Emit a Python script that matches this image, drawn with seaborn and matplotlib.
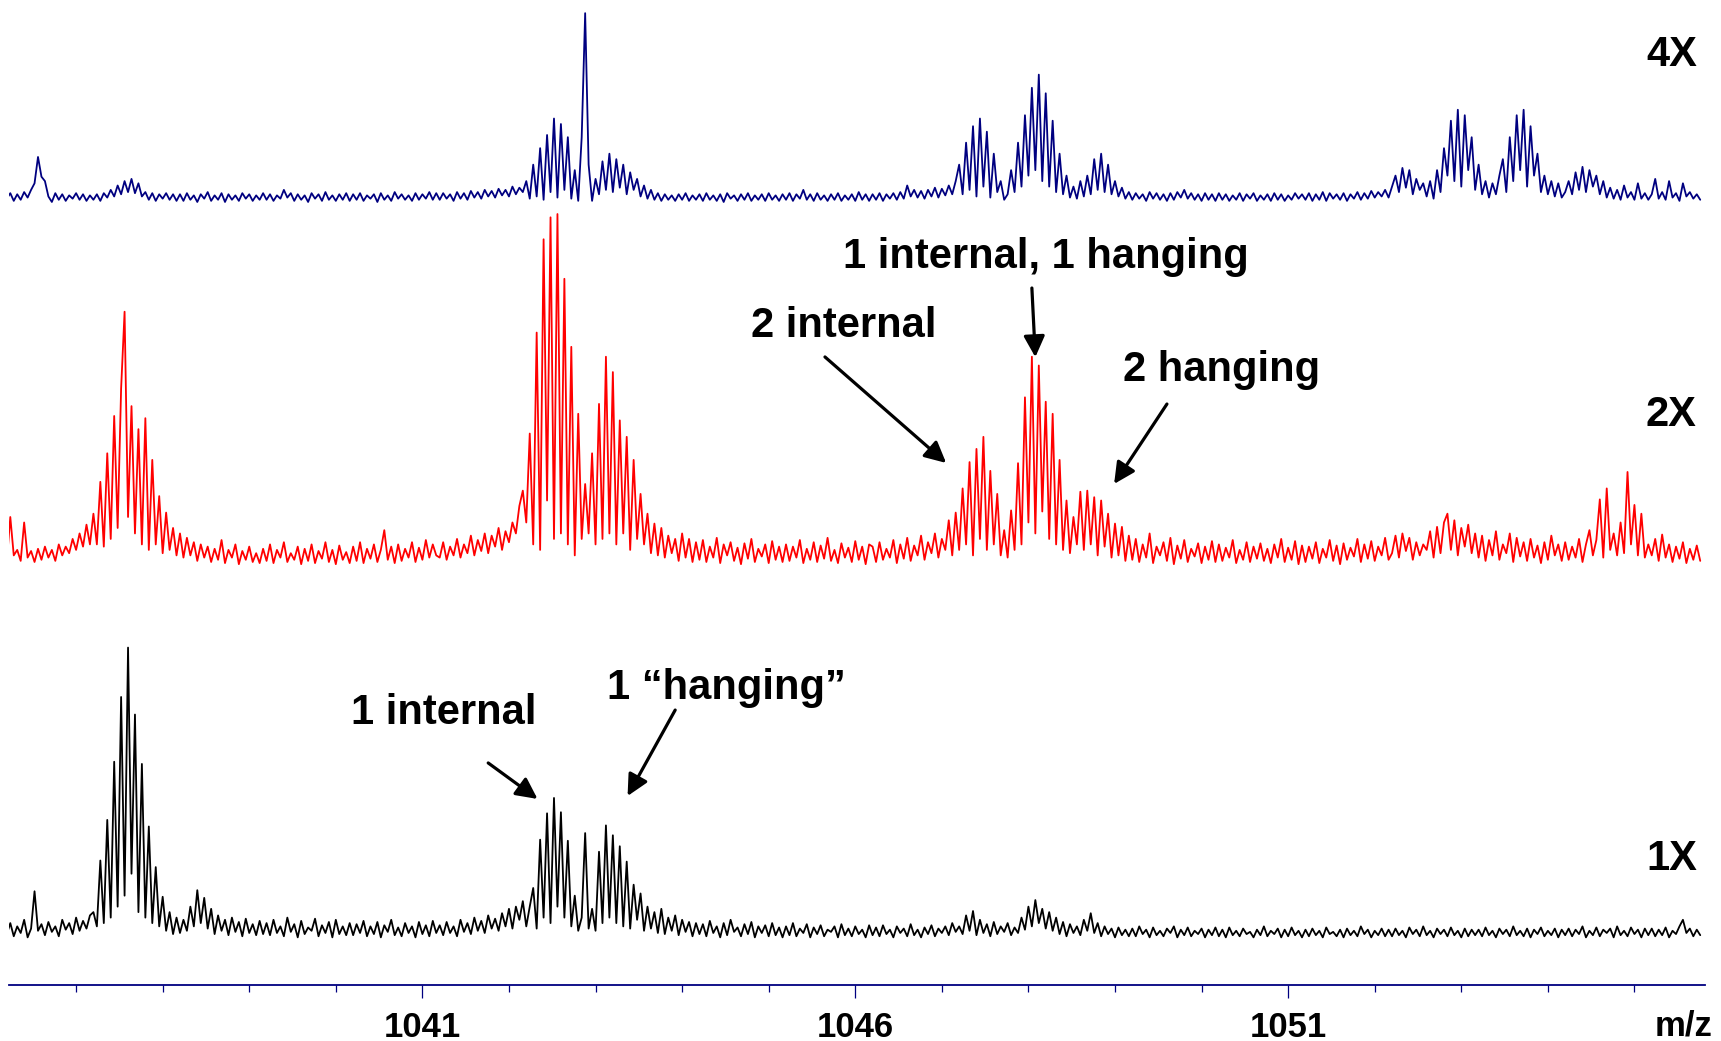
import numpy as np
import pandas as pd
import matplotlib
matplotlib.use("Agg")
import matplotlib.pyplot as plt
import seaborn as sns

# ---------------- data (intensity above each trace's noise floor, one row per m/z unit) -------------
MZ_START = 1036.2
MZ_STEP = 0.04

blue_4x = [
    4,9,2,8,3,10,5,12,18,42,24,20,6,1,9,3,8,2,7,4,9,3,8,2,7,
    3,8,2,9,5,12,6,16,8,20,10,22,9,18,6,10,3,9,2,8,4,9,3,8,2,
    8,2,9,3,7,1,8,4,10,2,7,3,9,1,8,3,7,2,9,4,8,2,7,3,9,
    3,8,2,7,4,12,5,9,2,8,3,7,1,9,4,8,2,10,3,7,2,8,3,9,2,
    8,3,9,2,7,4,8,1,9,3,7,2,10,4,8,3,7,2,9,3,8,4,10,3,9,
    3,9,4,8,2,10,4,9,3,11,5,10,4,12,6,11,5,13,7,12,6,15,8,14,10,
    20,4,35,6,50,3,62,10,77,5,72,12,60,4,30,2,60,173,35,2,22,8,38,12,45,
    10,40,14,35,8,28,12,22,6,16,4,12,3,9,2,8,3,7,2,8,3,9,2,7,3,
    8,2,9,3,7,2,8,1,9,4,7,2,8,3,9,2,7,3,8,2,9,3,7,2,8,
    3,9,2,8,4,12,3,8,2,9,3,7,2,8,3,9,2,7,3,8,2,10,3,8,2,
    8,3,9,2,8,4,9,3,10,4,16,6,12,5,11,4,12,6,14,5,13,7,16,8,20,
    35,8,55,12,70,6,77,15,65,5,45,10,20,3,8,30,10,55,15,80,25,105,30,117,20,
    100,15,75,10,45,8,25,5,15,4,20,6,25,8,40,12,45,10,35,8,20,6,14,4,10,
    3,9,4,8,2,10,4,9,3,8,2,9,3,10,5,12,4,9,3,8,2,9,3,8,2,
    9,3,8,2,7,3,9,2,8,4,9,2,7,3,8,2,9,3,8,2,7,3,9,4,8,
    3,9,2,8,3,10,2,9,4,8,3,9,2,8,4,10,3,9,4,11,5,10,6,12,5,
    15,25,10,32,14,30,8,22,12,18,6,20,4,30,10,50,25,75,20,85,15,80,30,60,12,
    35,8,20,5,18,8,25,40,10,60,20,80,30,85,15,70,25,45,10,25,8,20,6,18,5,
    10,20,8,28,12,33,10,30,15,25,8,20,5,14,4,12,3,16,5,10,3,18,4,9,3,
    8,22,4,10,3,20,5,9,2,18,6,10,4,8,3,
]

red_2x = [
    5,45,10,15,5,40,8,14,4,16,6,18,8,15,5,20,10,18,12,25,15,30,18,38,20,
    48,20,77,18,103,25,137,35,162,232,45,146,30,125,20,135,15,97,20,64,12,49,15,35,10,
    30,8,26,10,22,5,20,8,18,4,16,6,24,3,15,8,20,2,14,6,18,4,12,3,16,
    5,20,3,15,8,22,4,12,6,18,2,16,5,20,3,14,7,22,4,15,2,19,6,13,3,
    18,5,22,3,16,7,20,4,15,33,6,18,3,20,5,16,8,22,4,17,6,24,8,20,10,
    8,22,6,18,10,25,8,20,12,28,10,24,14,30,12,28,18,35,15,32,22,40,30,55,69,
    40,121,20,213,15,298,60,318,25,321,30,262,20,200,10,139,25,75,30,103,20,148,25,191,30,
    177,20,133,30,118,15,97,25,66,20,48,12,39,10,35,8,28,12,25,5,30,8,25,4,22,
    6,24,4,18,8,26,3,20,10,22,5,17,2,21,7,25,4,16,9,20,3,23,6,18,4,
    20,5,18,8,24,3,16,6,22,4,19,7,26,5,15,3,21,8,17,4,23,6,18,2,20,
    18,4,22,6,16,8,24,3,20,7,26,5,19,10,28,6,22,12,30,8,25,15,42,10,49,
    15,71,20,95,10,107,25,118,15,87,20,66,10,33,8,51,15,94,20,154,40,191,30,183,50,
    150,25,139,20,97,15,60,12,45,20,68,15,69,20,63,10,60,18,48,8,39,10,36,5,28,
    6,25,4,20,8,30,3,18,10,22,5,26,2,19,7,24,4,16,9,21,3,18,6,23,4,
    20,5,17,8,24,3,15,6,22,4,18,7,21,5,16,3,20,8,25,4,17,6,23,2,19,
    4,18,7,22,3,16,8,24,5,19,2,21,6,17,9,25,4,20,7,23,5,18,10,26,6,
    12,28,8,30,14,26,6,22,10,20,15,32,8,36,12,40,48,15,42,10,35,18,38,12,30,
    8,28,5,24,10,32,6,20,12,30,4,26,9,22,5,25,8,19,3,22,6,28,10,20,5,
    22,6,18,8,25,4,20,33,10,24,61,8,71,15,30,10,40,12,86,20,56,10,48,8,20,
    10,25,5,29,8,20,4,18,7,22,3,16,6,19,5,
]

black_1x = [
    5,15,3,12,6,18,2,10,44,8,14,4,16,7,12,3,18,9,15,5,20,8,17,10,22,
    25,12,72,15,109,20,162,30,221,40,266,60,205,25,160,20,103,15,66,12,39,8,25,5,20,
    6,18,8,30,12,45,15,38,10,28,5,22,8,18,4,20,7,16,3,19,6,14,4,17,5,
    15,4,18,6,12,3,20,7,14,2,17,5,11,8,19,3,13,6,16,2,18,5,12,4,15,
    4,14,6,17,3,12,5,16,2,13,7,18,4,11,3,15,6,12,2,16,5,13,3,17,6,
    13,4,16,6,12,3,18,7,15,5,20,8,17,6,22,10,19,8,24,12,28,10,30,18,35,
    12,30,47,10,91,20,115,15,129,30,116,20,90,12,40,8,20,97,10,28,8,80,15,104,20,
    95,15,85,12,71,10,50,18,42,8,30,10,25,6,28,5,20,8,22,4,18,7,16,3,15,
    5,14,3,17,6,12,2,15,4,18,7,11,3,14,5,16,2,12,6,13,3,15,4,11,2,
    12,4,15,3,10,6,14,2,11,5,13,3,9,7,12,2,14,4,10,3,12,5,9,2,13,
    4,11,3,13,5,9,2,12,6,10,3,14,4,9,2,11,5,13,3,10,6,12,4,15,7,
    12,5,22,8,26,4,18,6,14,3,16,5,12,7,15,4,11,6,20,9,30,12,36,15,28,
    10,25,8,20,5,16,3,14,6,12,4,18,8,24,6,15,3,12,5,10,2,11,4,9,3,
    10,3,12,5,9,2,11,4,8,3,10,6,12,2,9,4,11,3,8,5,10,2,9,4,11,
    3,9,2,11,4,8,3,10,5,7,2,9,4,12,3,8,5,10,2,9,3,11,4,8,2,
    9,3,10,4,8,2,11,5,7,3,9,2,10,4,8,3,12,5,9,2,8,4,10,3,9,
    3,10,4,8,2,11,5,9,3,12,4,8,2,10,5,9,3,11,4,8,2,10,3,9,4,
    9,3,11,4,8,2,10,5,9,3,12,4,8,3,10,2,9,5,11,3,8,4,10,2,9,
    4,10,3,9,5,12,2,8,4,11,3,9,6,10,2,12,4,8,3,11,5,9,2,10,4,
    10,3,9,4,11,2,8,5,12,18,6,10,3,9,4,
]

trace_labels = ["4X", "2X", "1X"]
trace_colors = ["#000080", "#FF0000", "#000000"]
major_ticks = [1041, 1046, 1051]
minor_ticks = [1037, 1038, 1039, 1040, 1042, 1043, 1044, 1045,
               1047, 1048, 1049, 1050, 1052, 1053, 1054, 1055]
axis_label = "m/z"

# ---------------- layout -------------
trace_offsets = {"4X": 712.4, "2X": 381.4, "1X": 41.4}
XLIM = (1036.225, 1055.815)
YLIM = (0, 897.4)

annotations = [
    # text, text anchor (left, baseline), arrow tail, arrow tip
    ("1 internal, 1 hanging", (1045.86, 653.0), (1048.04, 635.0), (1048.08, 572.0)),
    ("2 internal", (1044.79, 590.4), (1045.65, 572.2), (1047.05, 475.6)),
    ("2 hanging", (1049.09, 550.3), (1049.60, 529.3), (1048.99, 456.5)),
    ("1 internal", (1040.17, 237.8), (1041.76, 202.3), (1042.33, 169.5)),
    ("1 \u201changing\u201d", (1043.13, 260.6), (1043.92, 250.5), (1043.37, 172.2)),
]
trace_label_pos = {"4X": 837.3, "2X": 509.3, "1X": 104.8}

# ---------------- build frame -------------
frames = []
for lab, vals in zip(trace_labels, [blue_4x, red_2x, black_1x]):
    v = np.asarray(vals, dtype=float)
    mz = MZ_START + MZ_STEP * np.arange(len(v))
    frames.append(pd.DataFrame({"mz": mz, "y": trace_offsets[lab] + v, "trace": lab}))
df = pd.concat(frames, ignore_index=True)

sns.set_style("white")
plt.rcParams["font.family"] = ["Liberation Sans", "DejaVu Sans"]
plt.rcParams["text.color"] = "black"
plt.rcParams["xtick.color"] = "#000080"
plt.rcParams["xtick.labelcolor"] = "black"

W, H = 1721, 1041
fig = plt.figure(figsize=(W / 100, H / 100), dpi=100)
ax = fig.add_axes([9 / W, 56 / H, 1696 / W, 985 / H])

sns.lineplot(data=df, x="mz", y="y", hue="trace", hue_order=trace_labels,
             palette=dict(zip(trace_labels, trace_colors)), estimator=None,
             sort=False, legend=False, linewidth=1.3, ax=ax)

ax.set_xlim(*XLIM)
ax.set_ylim(*YLIM)
for s in ["left", "top", "right"]:
    ax.spines[s].set_visible(False)
ax.spines["bottom"].set_color("#000080")
ax.spines["bottom"].set_linewidth(1.3)
ax.set_yticks([])
ax.set_xlabel("")
ax.set_ylabel("")
ax.set_xticks(major_ticks)
ax.set_xticklabels([str(t) for t in major_ticks], fontsize=25, fontweight="bold",
                   color="black")
ax.set_xticks(minor_ticks, minor=True)
ax.tick_params(axis="x", which="major", direction="out", length=9.5, width=0.9,
               color="#000080", pad=9, bottom=True)
ax.tick_params(axis="x", which="minor", direction="out", length=5, width=0.9,
               color="#000080", bottom=True)

ax.text(1055.9, -46, axis_label, ha="right", va="baseline", fontsize=25,
        fontweight="bold", color="black", clip_on=False)

for lab in trace_labels:
    ax.text(1055.72, trace_label_pos[lab], lab, ha="right", va="baseline",
            fontsize=30, fontweight="bold", color="black")

for text, tpos, tail, tip in annotations:
    ax.text(tpos[0], tpos[1], text, ha="left", va="baseline", fontsize=30,
            fontweight="bold", color="black")
    ax.annotate("", xy=tip, xytext=tail,
                arrowprops=dict(arrowstyle="-|>", color="black", lw=2.3,
                                mutation_scale=32, shrinkA=0, shrinkB=0))

fig.savefig("out.png", dpi=100, facecolor="white")
